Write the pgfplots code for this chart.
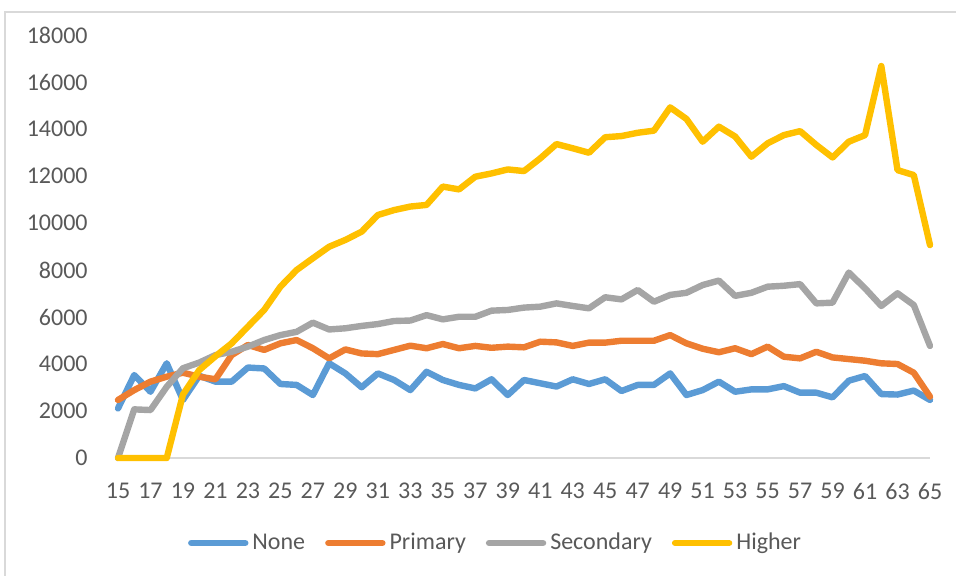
\documentclass[border=0pt]{standalone}
\usepackage{pgfplots}
\pgfplotsset{compat=1.18}
\usepackage{pgfplotstable}
\usepackage{fontspec}
\setmainfont{Carlito}
\definecolor{cNone}{HTML}{5B9BD5}
\definecolor{cPrim}{HTML}{ED7D31}
\definecolor{cSec}{HTML}{A5A5A5}
\definecolor{cHigh}{HTML}{FFC000}
\definecolor{txt}{HTML}{595959}
\definecolor{frame}{HTML}{D9D9D9}

\pgfplotstableread{
age none prim sec high
15 2110 2470 0 0
16 3530 2890 2070 0
17 2820 3250 2040 0
18 4030 3460 3030 0
19 2470 3630 3820 2700
20 3500 3460 4060 3740
21 3250 3350 4380 4330
22 3250 4380 4520 4880
23 3850 4810 4740 5590
24 3810 4600 5020 6300
25 3150 4880 5230 7290
26 3110 5020 5370 8000
27 2680 4670 5760 8500
28 4030 4240 5470 8990
29 3600 4620 5520 9280
30 3010 4450 5620 9630
31 3600 4420 5700 10340
32 3320 4600 5830 10550
33 2890 4780 5850 10700
34 3670 4670 6080 10770
35 3320 4850 5900 11550
36 3110 4670 6010 11430
37 2960 4770 6010 11970
38 3350 4690 6270 12110
39 2680 4740 6300 12280
40 3320 4710 6400 12210
41 3180 4950 6440 12750
42 3040 4920 6580 13360
43 3350 4770 6470 13180
44 3150 4910 6370 12990
45 3350 4910 6840 13650
46 2850 4990 6750 13700
47 3110 4990 7150 13840
48 3110 4990 6650 13930
49 3600 5230 6940 14920
50 2680 4880 7030 14430
51 2890 4650 7360 13460
52 3250 4500 7550 14100
53 2820 4670 6900 13680
54 2920 4420 7030 12820
55 2920 4740 7290 13390
56 3060 4310 7330 13740
57 2780 4240 7400 13910
58 2780 4520 6580 13320
59 2580 4280 6610 12790
60 3290 4210 7890 13460
61 3490 4140 7220 13740
62 2720 4030 6470 16680
63 2700 4000 7010 12250
64 2870 3630 6510 12040
65 2470 2610 4770 9060
}\datatable

\begin{document}
\begin{tikzpicture}
\useasboundingbox (0,0) rectangle (478pt,287.5pt);
\draw[frame, line width=0.75pt] (2.5pt,-5pt) -- (2.5pt,281.5pt) -- (485pt,281.5pt);
\begin{axis}[
  at={(59pt,58.5pt)}, anchor=south west,
  scale only axis, width=406pt, height=211.5pt,
  xmin=15, xmax=65, ymin=0, ymax=18000,
  xtick={15,17,...,65},
  ytick={0,2000,...,18000},
  axis y line*=left,
  y axis line style={draw=none},
  axis x line*=bottom,
  x axis line style={frame, line width=0.75pt, -},
  major tick length=0pt,
  scaled y ticks=false,
  /pgf/number format/assume math mode=true,
  yticklabel={\pgfmathprintnumber[fixed, 1000 sep={}]{\tick}},
  ticklabel style={font=\fontsize{12}{14}\selectfont, text=txt, inner sep=0pt},
  yticklabel style={anchor=east, xshift=-15pt},
  xticklabel style={anchor=north, yshift=-12.5pt},
  legend columns=4,
  legend style={draw=none, fill=none, at={(0.4637,-0.2009)}, anchor=center,
    font=\fontsize{12}{14}\selectfont, text=txt,
    /tikz/every odd column/.append style={column sep=2pt},
    /tikz/every even column/.append style={column sep=10pt},
    nodes={inner sep=0pt}},
  legend image code/.code={\draw[#1] (0pt,0pt) -- (27pt,0pt);},
  every axis plot/.append style={line width=3.2pt, line join=round, line cap=round},
  clip=false,
]
\addplot[cNone] table[x=age, y=none] {\datatable};
\addlegendentry{None}
\addplot[cPrim] table[x=age, y=prim] {\datatable};
\addlegendentry{Primary}
\addplot[cSec] table[x=age, y=sec] {\datatable};
\addlegendentry{Secondary}
\addplot[cHigh] table[x=age, y=high] {\datatable};
\addlegendentry{Higher}
\end{axis}
\end{tikzpicture}
\end{document}
